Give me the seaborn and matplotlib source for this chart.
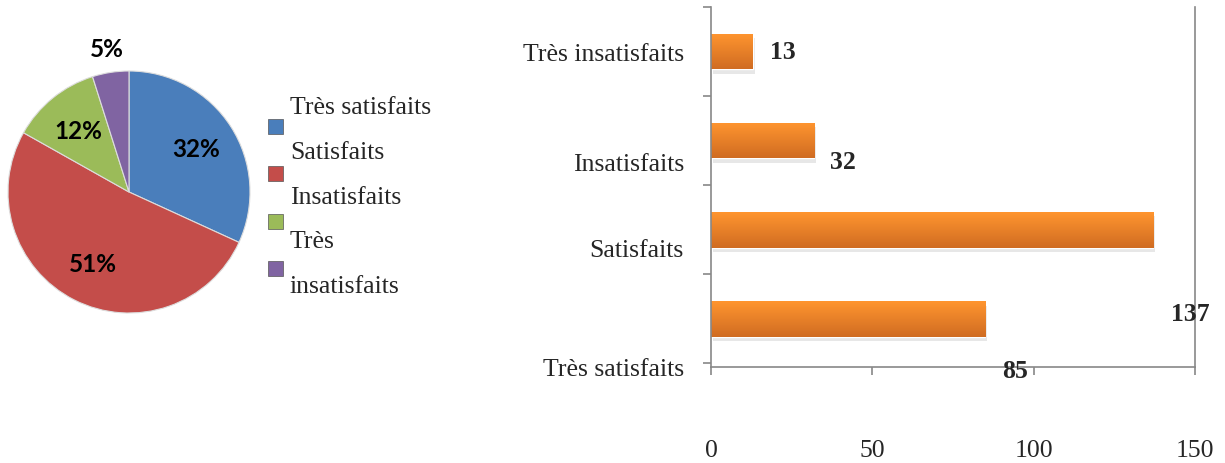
import numpy as np
import matplotlib
matplotlib.use("Agg")
import matplotlib.pyplot as plt
from matplotlib.patches import Patch
import seaborn as sns
import pandas as pd

sns.set_style("white")
plt.rcParams['font.family'] = ['Liberation Serif', 'DejaVu Serif']

# data
categories = ['Très satisfaits', 'Satisfaits', 'Insatisfaits', 'Très insatisfaits']
counts = [85, 137, 32, 13]
pie_colors = ['#4A7EBB', '#C44D4A', '#9BBB59', '#8064A2']
bar_color = '#EE8A2E'

# Excel-style odd label placements (offsets in data units, y down)
value_label_offsets = {'Très satisfaits': (9.2, 0.58), 'Satisfaits': (11.4, 0.94),
                       'Insatisfaits': (8.9, 0.23), 'Très insatisfaits': (9.3, 0.0)}
cat_label_offsets = {'Très satisfaits': 0.54, 'Satisfaits': 0.2,
                     'Insatisfaits': 0.23, 'Très insatisfaits': 0.0}

W, H = 1225, 464
fig = plt.figure(figsize=(W / 100, H / 100), dpi=100)

# ---- pie ----
cx, cy, r = 129, 193, 121
ax_pie = fig.add_axes([(cx - r) / W, (H - cy - r) / H, 2 * r / W, 2 * r / H])
wedges, texts, autotexts = ax_pie.pie(
    counts, colors=pie_colors, startangle=90, counterclock=False,
    autopct='%.0f%%', pctdistance=0.66,
    wedgeprops=dict(edgecolor='#dddddd', linewidth=0.8),
    textprops=dict(family='Lato', fontweight='bold', fontsize=17.5, color='black'))
ax_pie.set_xlim(-1, 1)
ax_pie.set_ylim(-1, 1)
ax_pie.set_aspect('equal', adjustable='box')
# small slice label sits outside
w = wedges[3]
ang = np.deg2rad((w.theta1 + w.theta2) / 2)
autotexts[3].set_position((1.2 * np.cos(ang), 1.2 * np.sin(ang)))

# legend: markers and wrapped text drawn separately, like the original
handles = [Patch(facecolor=c, edgecolor='#555555', linewidth=0.5) for c in pie_colors]
fig.legend(handles=handles, labels=[''] * 4, loc='upper left',
           bbox_to_anchor=(268 / W, 1 - 119 / H), frameon=False,
           handlelength=0.6, handleheight=0.55, labelspacing=1.02,
           handletextpad=0, borderpad=0, borderaxespad=0, fontsize=18)
legend_lines = categories[:3] + categories[3].split(' ')
for k, line in enumerate(legend_lines):
    fig.text(290 / W, 1 - (108 + 44.8 * k) / H, line, fontsize=18.5,
             ha='left', va='center')

# ---- bars ----
order = categories[::-1]
df = pd.DataFrame({'category': categories, 'count': counts})
ax = fig.add_axes([711 / W, (H - 368) / H, (1195 - 711) / W, (368 - 8) / H])
sns.barplot(data=df, x='count', y='category', order=order, color=bar_color,
            width=0.4, saturation=1, ax=ax)
ax.set_xlabel('')
ax.set_ylabel('')

# gradient fill on bars, with a soft shadow
grad = np.linspace(0, 1, 64).reshape(-1, 1)
cmap = matplotlib.colors.LinearSegmentedColormap.from_list('o', ['#FF952F', '#D06C22'])
for p in ax.patches:
    x0, y0 = p.get_x(), p.get_y()
    w_, h_ = p.get_width(), p.get_height()
    ax.add_patch(plt.Rectangle((x0 + 0.5, y0 + 0.05), w_, h_, color='#d8d8d8',
                               alpha=0.6, zorder=1, linewidth=0))
    im = ax.imshow(grad, cmap=cmap, aspect='auto', extent=(x0, x0 + w_, y0 + h_, y0),
                   zorder=2)
    im.set_clip_path(p)
    p.set_zorder(2)
ax.set_xlim(0, 150)
ax.set_ylim(3.5, -0.5)

# value labels
for i, cat in enumerate(order):
    v = counts[categories.index(cat)]
    dx, dy = value_label_offsets[cat]
    ax.text(v + dx, i + dy, str(v), ha='center', va='center', fontsize=18.5,
            fontweight='bold', clip_on=False)

# category labels as major ticks, band boundaries as minor ticks
ax.set_yticks([i + cat_label_offsets[c] for i, c in enumerate(order)])
ax.set_yticklabels(order, fontsize=18.5)
ax.set_yticks([-0.5, 0.5, 1.5, 2.5, 3.5], minor=True)
ax.tick_params(axis='y', which='major', length=0, pad=19.5)
ax.tick_params(axis='y', which='minor', length=6, color='#888888', width=1.2, left=True)
ax.set_xticks([0, 50, 100, 150])
ax.set_xticklabels(['0', '50', '100', '150'], fontsize=18.5)
ax.tick_params(axis='x', length=6, color='#888888', width=1.2, pad=46, bottom=True)

for s in ['left', 'bottom', 'right']:
    ax.spines[s].set_visible(True)
    ax.spines[s].set_color('#888888')
    ax.spines[s].set_linewidth(1.2)
ax.spines['top'].set_visible(False)
ax.grid(False)

fig.savefig('out.png', dpi=100)
